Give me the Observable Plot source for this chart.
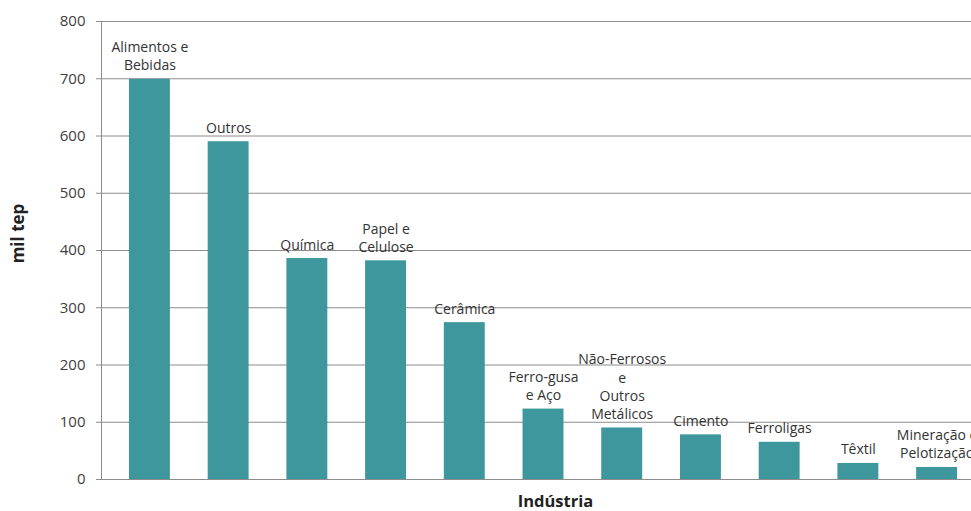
<!DOCTYPE html>
<html>
<head>
<meta charset="utf-8">
<script src="https://cdn.jsdelivr.net/npm/d3@7"></script>
<script src="https://cdn.jsdelivr.net/npm/@observablehq/plot@0.6"></script>
<style>
  html, body { margin: 0; padding: 0; background: #fff; overflow: hidden; }
  #chart { width: 971px; height: 511px; overflow: hidden; }
</style>
</head>
<body>
<div id="chart"></div>
<script>
const categories = ["Alimentos e Bebidas","Outros","Química","Papel e Celulose","Cerâmica","Ferro-gusa e Aço","Não-Ferrosos e Outros Metálicos","Cimento","Ferroligas","Têxtil","Mineração e Pelotização"];
const barLabels = ["Alimentos e\nBebidas","Outros","Química","Papel e\nCelulose","Cerâmica","Ferro-gusa\ne Aço","Não-Ferrosos\ne\nOutros\nMetálicos","Cimento","Ferroligas","Têxtil","Mineração e\nPelotização"];
const values = [699, 590, 386, 382, 274, 123, 90, 78, 65, 28, 21];
const yTicks = [0, 100, 200, 300, 400, 500, 600, 700, 800];
const yLabel = "mil tep";
const xLabel = "Indústria";

const data = categories.map((c, i) => ({cat: c, value: values[i], label: barLabels[i]}));

const chart = Plot.plot({
  width: 971,
  height: 511,
  marginLeft: 101,
  marginRight: -14,
  marginTop: 21,
  marginBottom: 32,
  style: {fontFamily: "'Open Sans', sans-serif", background: "#fff"},
  x: {domain: categories, paddingInner: 0.48, paddingOuter: 0.355, round: false, axis: null},
  y: {domain: [0, 800], axis: null},
  marks: [
    Plot.ruleY(yTicks, {stroke: "#8c8c8c", strokeWidth: 1}),
    Plot.axisY({ticks: yTicks, tickSize: 5, tickPadding: 11, stroke: "#8c8c8c", fill: "#404040", fontSize: 15, label: null}),
    Plot.frame({anchor: "left", stroke: "#8c8c8c"}),
    Plot.barY(data, {x: "cat", y: "value", fill: "#3e979c"}),
    Plot.text(data, {x: "cat", y: "value", text: "label", lineAnchor: "bottom", dy: -9, fontSize: 14, lineHeight: 1.3, fill: "#333"}),
    Plot.text([xLabel], {frameAnchor: "bottom", lineAnchor: "middle", textAnchor: "middle", dy: 22, dx: 12, fontWeight: "bold", fontSize: 16.5, fill: "#222"}),
    Plot.text([yLabel], {frameAnchor: "left", textAnchor: "middle", lineAnchor: "middle", rotate: -90, dx: -83, dy: -17, fontWeight: "bold", fontSize: 17, fill: "#222"})
  ]
});
document.getElementById("chart").appendChild(chart);
</script>
</body>
</html>
